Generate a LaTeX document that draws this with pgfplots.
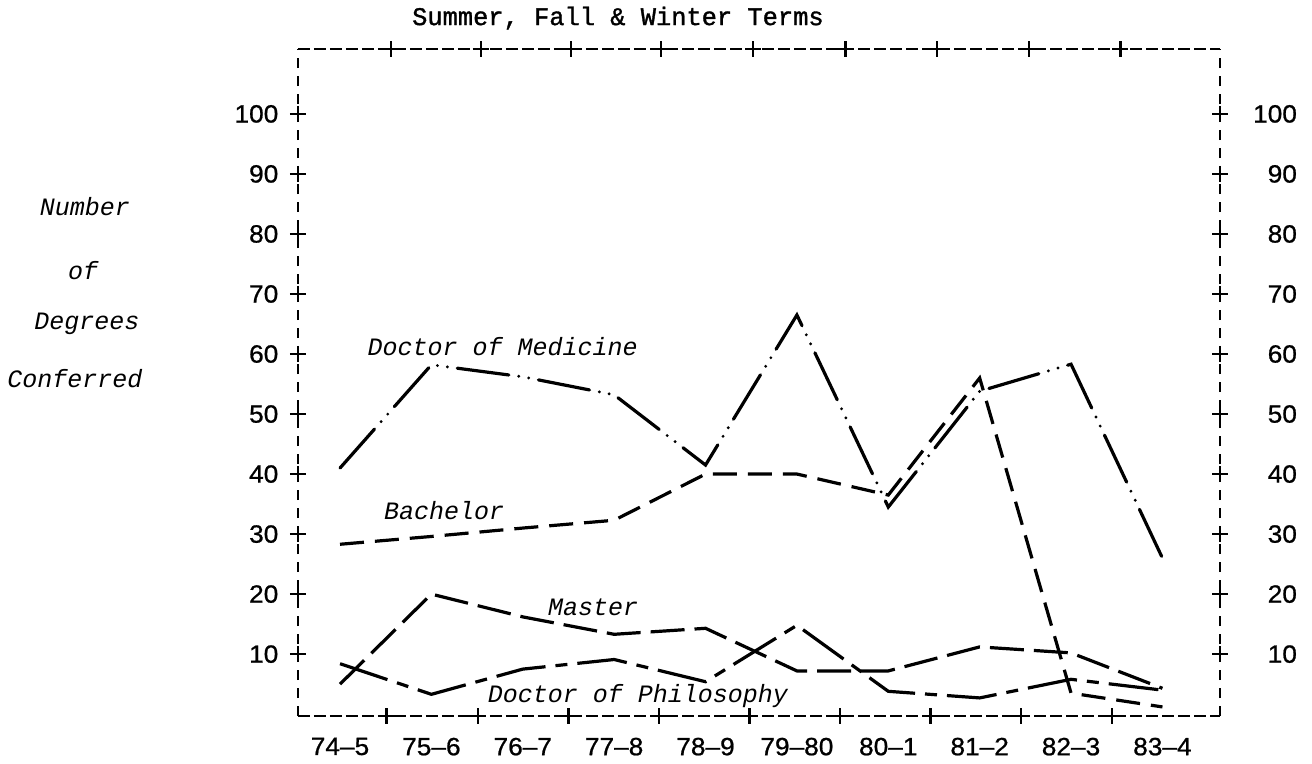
\documentclass[border=0pt]{standalone}
\usepackage{fontspec}
\usepackage{pgfplots}
\pgfplotsset{compat=1.18}
\newfontfamily\monofont{Liberation Mono}
\newfontfamily\titlefont[FakeBold=1.3]{Liberation Mono}
\newfontfamily\tickfont[FakeBold=0.8,FakeStretch=1.05]{Liberation Sans}

\pgfplotstableread{
x y
0 41
1 58.2
2 56.2
3 53.2
4 41.5
5 66.5
6 34.5
7 53.8
8 58.3
9 26
}\medicine
\pgfplotstableread{
x y
0 28.3
1 29.6
2 31
3 32.3
4 40
5 40
6 36.5
7 56
8 3.5
9 1.2
}\bachelor
\pgfplotstableread{
x y
0 5
1 20
2 16.2
3 13.3
4 14.3
5 7.2
6 7.2
7 11.2
8 10.2
9 4.3
}\master
\pgfplotstableread{
x y
0 8.4
1 3.3
2 7.5
3 9.1
4 5.4
5 14.8
6 3.8
7 2.7
8 5.8
9 4.0
}\philosophy

\begin{document}
\begin{tikzpicture}
\pgfplotsset{
  common/.style={
    scale only axis, width=461pt, height=333.5pt,
    xmin=-0.46, xmax=9.63, ymin=-0.33, ymax=110.8,
    clip=false,
    major tick length=0pt,
    /pgf/number format/assume math mode=true,
    tick label style={font=\tickfont\fontsize{12.5}{15}\selectfont},
  }
}
\begin{axis}[common,
  separate axis lines,
  axis line style={line width=1.2pt},
  x axis line style={dash pattern=on 6pt off 2pt},
  y axis line style={dash pattern=on 5pt off 4pt},
  xtick={0,...,9},
  xticklabels={74–5,75–6,76–7,77–8,78–9,79–80,80–1,81–2,82–3,83–4},
  ytick={10,20,...,100},
  xticklabel style={yshift=-7.3pt},
  yticklabel style={xshift=-6.3pt},
]
% frame crosses
\addplot[only marks, mark=+, mark size=4pt, mark options={solid, line width=1.2pt}] coordinates {
(-0.46,10) (-0.46,20) (-0.46,30) (-0.46,40) (-0.46,50) (-0.46,60) (-0.46,70) (-0.46,80) (-0.46,90) (-0.46,100)
(9.63,10) (9.63,20) (9.63,30) (9.63,40) (9.63,50) (9.63,60) (9.63,70) (9.63,80) (9.63,90) (9.63,100)
(0.51,-0.33) (1.51,-0.33) (2.50,-0.33) (3.49,-0.33) (4.48,-0.33) (5.47,-0.33) (6.46,-0.33) (7.45,-0.33) (8.45,-0.33)
(0.56,110.8) (1.54,110.8) (2.53,110.8) (3.51,110.8) (4.52,110.8) (5.53,110.8) (6.53,110.8) (7.54,110.8) (8.54,110.8)
};
% series
\addplot[line width=1.6pt, line cap=round, dash pattern=on 26pt off 5pt on 0pt off 5pt on 0pt off 5pt] table[x=x,y=y] {\medicine};
\addplot[line width=1.6pt, dash pattern=on 12pt off 5.5pt] table[x=x,y=y] {\bachelor};
\addplot[line width=1.6pt, dash pattern=on 17pt off 5pt] table[x=x,y=y] {\master};
\addplot[line width=1.6pt, dash pattern=on 25pt off 5pt on 6pt off 5pt] table[x=x,y=y] {\philosophy};
% series labels
\node[font=\monofont\itshape\fontsize{12.5}{15}\selectfont, anchor=base] at (axis cs:1.78,59.8) {Doctor of Medicine};
\node[font=\monofont\itshape\fontsize{12.5}{15}\selectfont, anchor=base] at (axis cs:1.14,32.4) {Bachelor};
\node[font=\monofont\itshape\fontsize{12.5}{15}\selectfont, anchor=base] at (axis cs:2.77,16.4) {Master};
\node[font=\monofont\itshape\fontsize{12.5}{15}\selectfont, anchor=base] at (axis cs:3.26,2.0) {Doctor of Philosophy};
% title
\node[font=\titlefont\fontsize{12.7}{15}\selectfont, anchor=base] at (rel axis cs:0.347,1.036) {Summer, Fall \& Winter Terms};
% y label
\node[font=\monofont\itshape\fontsize{12.5}{15}\selectfont, anchor=base] at (rel axis cs:-0.231,0.751) {Number};
\node[font=\monofont\itshape\fontsize{12.5}{15}\selectfont, anchor=base] at (rel axis cs:-0.233,0.655) {of};
\node[font=\monofont\itshape\fontsize{12.5}{15}\selectfont, anchor=base] at (rel axis cs:-0.229,0.579) {Degrees};
\node[font=\monofont\itshape\fontsize{12.5}{15}\selectfont, anchor=base] at (rel axis cs:-0.242,0.493) {Conferred};
% bounding box
\path (rel axis cs:-0.3232,-0.0705) rectangle (rel axis cs:1.0998,1.0705);
\end{axis}
\begin{axis}[common,
  hide x axis,
  axis y line*=right,
  y axis line style={draw=none},
  ytick={10,20,...,100},
  yticklabel pos=right,
  yticklabel style={anchor=east, xshift=42pt},
]
\addplot[draw=none] coordinates {(0,10)};
\end{axis}
\end{tikzpicture}
\end{document}
